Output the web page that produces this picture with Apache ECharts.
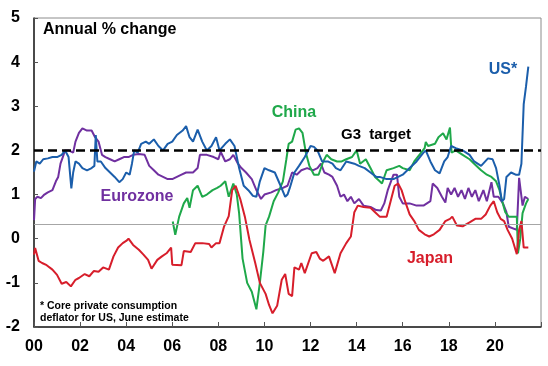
<!DOCTYPE html>
<html>
<head>
<meta charset="utf-8">
<script src="https://cdn.jsdelivr.net/npm/echarts@6/dist/echarts.min.js"></script>
<style>html,body{margin:0;padding:0;background:#fff}#c{width:548px;height:366px}</style>
</head>
<body>
<div id="c"></div>
<script>
// ---- data (year, annual % change) ----
const xTickLabels = ['00','02','04','06','08','10','12','14','16','18','20'];
const targetLevel = 2;
const greyRefLevel = 0.32;

const usData = [
[2000.0,1.52],[2000.1,1.75],[2000.25,1.7],[2000.4,1.8],[2000.6,1.82],[2000.8,1.85],[2001.0,1.85],[2001.2,1.9],[2001.35,2.0],[2001.5,1.85],[2001.62,1.14],[2001.7,1.5],[2001.8,1.75],[2001.95,1.7],[2002.1,1.6],[2002.3,1.55],[2002.5,1.6],[2002.62,1.65],[2002.68,2.35],[2002.75,1.75],[2002.9,1.75],[2003.1,1.6],[2003.3,1.5],[2003.5,1.4],[2003.7,1.28],[2003.85,1.35],[2004.0,1.5],[2004.15,1.45],[2004.25,1.7],[2004.35,2.0],[2004.5,1.95],[2004.65,2.15],[2004.85,2.2],[2005.0,2.15],[2005.2,2.25],[2005.4,2.1],[2005.6,2.0],[2005.8,2.15],[2006.0,2.2],[2006.2,2.35],[2006.45,2.45],[2006.6,2.55],[2006.75,2.3],[2006.9,2.2],[2007.1,2.47],[2007.3,2.2],[2007.5,2.0],[2007.7,2.1],[2007.9,2.3],[2008.05,2.0],[2008.3,2.15],[2008.5,2.25],[2008.7,2.1],[2008.9,1.6],[2009.1,1.2],[2009.3,1.1],[2009.5,0.97],[2009.65,0.95],[2009.8,1.3],[2010.0,1.6],[2010.2,1.55],[2010.45,1.5],[2010.7,1.2],[2010.9,0.95],[2011.0,1.0],[2011.1,1.15],[2011.3,1.5],[2011.5,1.65],[2011.75,1.85],[2012.0,2.1],[2012.15,2.08],[2012.3,2.0],[2012.5,1.75],[2012.75,1.75],[2012.95,1.7],[2013.1,1.6],[2013.3,1.55],[2013.55,1.75],[2013.9,1.7],[2014.1,1.65],[2014.35,1.6],[2014.6,1.5],[2014.85,1.4],[2015.0,1.4],[2015.3,1.35],[2015.6,1.35],[2015.8,1.4],[2016.0,1.45],[2016.3,1.6],[2016.6,1.75],[2016.9,1.95],[2017.0,2.0],[2017.2,1.75],[2017.4,1.55],[2017.6,1.48],[2017.8,1.75],[2017.95,1.85],[2018.1,2.1],[2018.3,2.05],[2018.6,2.0],[2018.9,1.9],[2019.1,1.75],[2019.4,1.65],[2019.7,1.82],[2019.9,1.8],[2020.05,1.6],[2020.2,1.2],[2020.3,0.85],[2020.4,0.9],[2020.5,1.4],[2020.7,1.5],[2020.9,1.45],[2021.05,1.45],[2021.15,1.7],[2021.25,3.05],[2021.35,3.45],[2021.45,3.9]
];

const euroData = [
[2000.0,0.42],[2000.05,0.9],[2000.15,0.95],[2000.3,0.92],[2000.45,1.0],[2000.6,1.05],[2000.8,1.1],[2000.95,1.3],[2001.05,1.4],[2001.15,1.7],[2001.25,1.85],[2001.35,2.0],[2001.5,2.0],[2001.7,1.95],[2001.8,2.2],[2001.95,2.4],[2002.1,2.5],[2002.3,2.45],[2002.5,2.45],[2002.65,2.3],[2002.8,2.2],[2002.95,1.9],[2003.1,1.85],[2003.3,1.8],[2003.5,1.75],[2003.7,1.8],[2003.9,1.85],[2004.1,1.85],[2004.3,1.9],[2004.55,1.92],[2004.8,1.9],[2005.0,1.65],[2005.2,1.55],[2005.4,1.45],[2005.6,1.4],[2005.8,1.35],[2006.0,1.35],[2006.2,1.4],[2006.4,1.45],[2006.6,1.5],[2006.9,1.5],[2007.1,1.6],[2007.2,1.9],[2007.5,1.9],[2007.8,1.85],[2008.0,1.8],[2008.1,1.97],[2008.3,1.75],[2008.5,1.8],[2008.65,1.9],[2008.85,1.7],[2009.0,1.6],[2009.2,1.5],[2009.45,1.35],[2009.65,1.1],[2009.85,0.9],[2010.0,1.0],[2010.3,1.05],[2010.5,1.1],[2010.8,1.15],[2011.0,1.2],[2011.2,1.5],[2011.4,1.45],[2011.6,1.55],[2011.85,1.6],[2012.1,1.55],[2012.3,1.6],[2012.45,1.7],[2012.6,1.5],[2012.8,1.45],[2012.95,1.4],[2013.15,1.2],[2013.3,0.95],[2013.45,1.0],[2013.6,0.85],[2013.75,0.95],[2013.9,0.8],[2014.1,0.9],[2014.3,0.75],[2014.6,0.72],[2014.85,0.65],[2015.05,0.64],[2015.2,0.8],[2015.35,1.1],[2015.6,1.45],[2015.75,1.45],[2015.85,0.95],[2016.0,0.8],[2016.3,0.8],[2016.6,0.75],[2016.9,0.75],[2017.2,0.85],[2017.3,1.25],[2017.5,1.15],[2017.7,0.95],[2017.85,0.82],[2017.95,1.15],[2018.1,1.0],[2018.25,1.15],[2018.4,0.95],[2018.55,1.1],[2018.7,0.9],[2018.85,1.15],[2019.0,0.95],[2019.15,1.1],[2019.3,0.85],[2019.5,1.1],[2019.65,0.85],[2019.85,1.28],[2019.95,0.95],[2020.15,0.95],[2020.35,0.8],[2020.5,0.6],[2020.6,0.27],[2020.95,0.2],[2021.05,1.38],[2021.2,0.75],[2021.3,0.95],[2021.45,0.9]
];

const chinaData = [
[2006.02,0.39],[2006.13,0.09],[2006.3,0.5],[2006.5,0.8],[2006.65,0.92],[2006.75,0.7],[2006.9,1.1],[2007.1,1.2],[2007.3,0.95],[2007.5,1.0],[2007.75,1.1],[2007.95,1.15],[2008.1,1.2],[2008.3,1.3],[2008.45,0.95],[2008.65,1.25],[2008.8,1.0],[2008.9,0.58],[2009.05,-0.45],[2009.25,-1.0],[2009.45,-1.2],[2009.65,-1.6],[2009.8,-1.0],[2009.95,-0.3],[2010.05,0.3],[2010.2,0.5],[2010.4,0.85],[2010.6,1.05],[2010.8,1.3],[2010.95,1.8],[2011.05,2.15],[2011.2,2.2],[2011.35,2.47],[2011.5,2.5],[2011.65,2.4],[2011.8,1.94],[2011.95,1.65],[2012.15,1.45],[2012.35,1.45],[2012.55,1.75],[2012.7,1.9],[2012.9,1.8],[2013.15,1.75],[2013.35,1.75],[2013.55,1.8],[2013.8,1.85],[2014.0,2.0],[2014.15,1.7],[2014.4,1.8],[2014.6,1.6],[2014.8,1.4],[2015.0,1.3],[2015.1,1.25],[2015.3,1.55],[2015.6,1.6],[2015.85,1.65],[2016.0,1.6],[2016.3,1.55],[2016.5,1.75],[2016.8,1.95],[2016.95,2.05],[2017.0,2.19],[2017.1,2.1],[2017.4,2.15],[2017.55,2.3],[2017.75,2.39],[2017.9,2.25],[2018.05,2.52],[2018.12,1.95],[2018.3,2.0],[2018.6,1.9],[2018.9,1.8],[2019.1,1.7],[2019.4,1.55],[2019.65,1.45],[2019.85,1.4],[2020.05,1.3],[2020.2,1.1],[2020.3,0.88],[2020.45,0.6],[2020.6,0.5],[2020.8,0.5],[2020.95,0.5],[2021.0,-0.33],[2021.1,0.0],[2021.2,0.58],[2021.35,0.8],[2021.45,0.9]
];

const japanData = [
[2000.0,-0.36],[2000.05,-0.21],[2000.2,-0.5],[2000.35,-0.55],[2000.55,-0.6],[2000.8,-0.7],[2001.0,-0.82],[2001.2,-1.02],[2001.4,-0.98],[2001.6,-1.08],[2001.8,-0.93],[2001.95,-0.89],[2002.2,-0.8],[2002.4,-0.85],[2002.6,-0.73],[2002.8,-0.75],[2003.0,-0.65],[2003.25,-0.7],[2003.45,-0.4],[2003.65,-0.2],[2003.85,-0.1],[2004.0,-0.05],[2004.1,0.0],[2004.3,-0.14],[2004.55,-0.25],[2004.75,-0.36],[2004.95,-0.48],[2005.1,-0.68],[2005.35,-0.48],[2005.55,-0.4],[2005.75,-0.33],[2005.95,-0.2],[2006.0,-0.59],[2006.4,-0.6],[2006.5,-0.28],[2006.8,-0.3],[2007.0,-0.1],[2007.3,-0.1],[2007.6,-0.12],[2007.7,-0.2],[2007.9,-0.1],[2008.05,-0.1],[2008.25,0.28],[2008.45,0.51],[2008.6,1.1],[2008.75,1.2],[2008.95,0.9],[2009.15,0.5],[2009.35,-0.03],[2009.6,-0.55],[2009.8,-1.0],[2010.05,-1.25],[2010.2,-1.5],[2010.35,-1.69],[2010.55,-1.52],[2010.75,-0.93],[2010.9,-0.8],[2011.05,-1.25],[2011.2,-1.3],[2011.3,-0.65],[2011.5,-0.7],[2011.6,-0.55],[2011.75,-0.78],[2012.05,-0.33],[2012.25,-0.3],[2012.4,-0.45],[2012.55,-0.5],[2012.8,-0.4],[2013.05,-0.78],[2013.3,-0.33],[2013.55,-0.1],[2013.75,0.05],[2013.9,0.6],[2014.05,0.75],[2014.3,0.72],[2014.6,0.7],[2014.8,0.6],[2015.0,0.5],[2015.3,0.5],[2015.5,0.9],[2015.65,1.2],[2015.8,1.25],[2015.95,1.1],[2016.1,0.85],[2016.3,0.55],[2016.5,0.4],[2016.7,0.2],[2016.95,0.1],[2017.15,0.05],[2017.35,0.1],[2017.6,0.2],[2017.85,0.4],[2018.05,0.45],[2018.15,0.5],[2018.35,0.3],[2018.6,0.28],[2018.9,0.37],[2019.15,0.45],[2019.4,0.45],[2019.6,0.55],[2019.8,0.75],[2019.95,0.85],[2020.1,0.6],[2020.25,0.45],[2020.4,0.4],[2020.55,0.2],[2020.75,0.0],[2020.95,-0.35],[2021.05,0.2],[2021.15,0.4],[2021.25,-0.2],[2021.45,-0.2]
];

// ---- chart ----
const FONT = '"Liberation Sans", Arial, Helvetica, sans-serif';
const C_US = '#1b5eab', C_EU = '#7030a0', C_CN = '#1fa84a', C_JP = '#d71e2b';

const chart = echarts.init(document.getElementById('c'), null, {renderer: 'canvas'});

function lineSeries(name, data, color, extra) {
  return Object.assign({
    name, type: 'line', data, showSymbol: false, symbol: 'none',
    lineStyle: {color, width: 2}, itemStyle: {color}, animation: false, silent: true
  }, extra || {});
}

chart.setOption({
  animation: false,
  grid: {left: 34, top: 18, right: 7, bottom: 39, show: true, borderColor: '#8c8c8c', borderWidth: 1},
  xAxis: {
    type: 'value', min: 2000, max: 2022, interval: 2,
    axisLine: {show: true, onZero: false, lineStyle: {color: '#222', width: 1.5}},
    axisTick: {show: true, inside: true, length: 5, lineStyle: {color: '#555'}},
    splitLine: {show: false},
    axisLabel: {
      margin: 12, color: '#000', fontSize: 16, fontWeight: 'bold', fontFamily: FONT,
      formatter: v => { const i = Math.round((v - 2000) / 2); return xTickLabels[i] || ''; }
    }
  },
  yAxis: {
    type: 'value', min: -2, max: 5, interval: 1,
    axisLine: {show: true, onZero: false, lineStyle: {color: '#222', width: 1.5}},
    axisTick: {show: true, inside: true, length: 4, lineStyle: {color: '#555'}},
    splitLine: {show: false},
    axisLabel: {margin: 14, color: '#000', fontSize: 16, fontWeight: 'bold', fontFamily: FONT}
  },
  series: [
    lineSeries('Eurozone', euroData, C_EU, {
      markLine: {
        silent: true, symbol: 'none', animation: false, label: {show: false},
        data: [{yAxis: greyRefLevel, lineStyle: {color: '#a6a6a6', width: 1, type: 'solid'}}]
      }
    }),
    lineSeries('China', chinaData, C_CN),
    lineSeries('US', usData, C_US),
    lineSeries('Japan', japanData, C_JP, {
      markLine: {
        silent: true, symbol: 'none', animation: false, label: {show: false},
        data: [{yAxis: targetLevel, lineStyle: {color: '#000', width: 2.5, type: [9, 5]}}]
      }
    })
  ],
  graphic: [
    {type: 'text', silent: true, style: {text: 'Annual % change', x: 43, y: 30, fill: '#000', font: 'bold 16px ' + FONT, textVerticalAlign: 'middle'}},
    {type: 'text', silent: true, style: {text: 'US*', x: 503, y: 70, fill: C_US, font: 'bold 16px ' + FONT, textAlign: 'center', textVerticalAlign: 'middle'}},
    {type: 'text', silent: true, style: {text: 'China', x: 294, y: 113, fill: C_CN, font: 'bold 16px ' + FONT, textAlign: 'center', textVerticalAlign: 'middle'}},
    {type: 'text', silent: true, style: {text: 'G3  target', x: 376, y: 135, fill: '#000', font: 'bold 15px ' + FONT, textAlign: 'center', textVerticalAlign: 'middle'}},
    {type: 'text', silent: true, style: {text: 'Eurozone', x: 137, y: 197, fill: C_EU, font: 'bold 16px ' + FONT, textAlign: 'center', textVerticalAlign: 'middle'}},
    {type: 'text', silent: true, style: {text: 'Japan', x: 430, y: 259, fill: C_JP, font: 'bold 16px ' + FONT, textAlign: 'center', textVerticalAlign: 'middle'}},
    {type: 'text', silent: true, style: {text: '* Core private consumption', x: 40, y: 306, fill: '#000', font: 'bold 10.5px ' + FONT, textVerticalAlign: 'middle'}},
    {type: 'text', silent: true, style: {text: 'deflator for US, June estimate', x: 40, y: 318, fill: '#000', font: 'bold 10.5px ' + FONT, textVerticalAlign: 'middle'}}
  ]
});
</script>
</body>
</html>
